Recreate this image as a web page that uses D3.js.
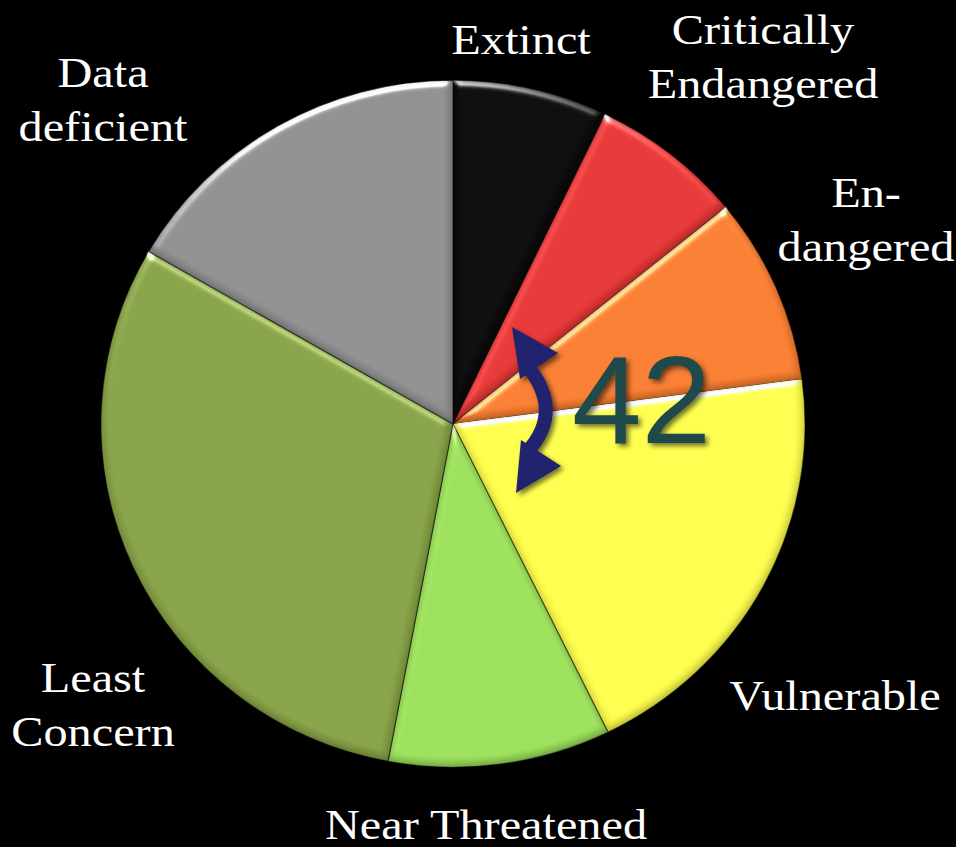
<!DOCTYPE html>
<html>
<head>
<meta charset="utf-8">
<script src="https://cdn.jsdelivr.net/npm/d3@7"></script>
<style>
  html, body { margin: 0; padding: 0; background: #000; }
  svg { display: block; }
</style>
</head>
<body>
<svg id="chart" width="956" height="847"></svg>
<script>
// ---- data ----
const categories = ["Extinct", "Critically Endangered", "Endangered", "Vulnerable", "Near Threatened", "Least Concern", "Data deficient"];
const values = [7.1, 7.0, 8.8, 19.8, 10.2, 30.4, 16.6];
const labelLines = [["Extinct"], ["Critically", "Endangered"], ["En-", "dangered"], ["Vulnerable"], ["Near Threatened"], ["Least", "Concern"], ["Data", "deficient"]];
const annotationValue = "42";

// ---- style / layout ----
const colors = ["#0a0a0a", "#e23636", "#f47b30", "#f9f94c", "#99dc5a", "#849f45", "#8d8d8d"];
const labelPos = [[521, 54], [763, 44], [866, 207], [835, 710], [486, 839], [93, 692], [103, 87]];
const lineH = 54;
const textStretch = 1.15;
const W = 956, H = 847;
const cx = 453, cy = 424, R = 352, yScale = 0.975;

const svg = d3.select("#chart");
svg.append("rect").attr("width", W).attr("height", H).attr("fill", "#000");

const defs = svg.append("defs");
const f = defs.append("filter").attr("id", "bevel")
  .attr("color-interpolation-filters", "sRGB")
  .attr("x", "-5%").attr("y", "-5%").attr("width", "110%").attr("height", "110%");
f.append("feGaussianBlur").attr("in", "SourceAlpha").attr("stdDeviation", 4).attr("result", "blur");
const spec = f.append("feSpecularLighting").attr("in", "blur").attr("surfaceScale", 4)
  .attr("specularConstant", 1.1).attr("specularExponent", 22)
  .attr("lighting-color", "#ffffff").attr("result", "spec");
spec.append("feDistantLight").attr("azimuth", 260).attr("elevation", 25);
f.append("feComposite").attr("in", "spec").attr("in2", "SourceAlpha").attr("operator", "in").attr("result", "specIn");
// dark lower edge via offset blur
f.append("feOffset").attr("in", "blur").attr("dx", -1).attr("dy", -3).attr("result", "off");
f.append("feComposite").attr("in", "SourceAlpha").attr("in2", "off").attr("operator", "out").attr("result", "edge");
f.append("feFlood").attr("flood-color", "#000").attr("flood-opacity", 0.3).attr("result", "dark");
f.append("feComposite").attr("in", "dark").attr("in2", "edge").attr("operator", "in").attr("result", "darkEdge");
f.append("feComposite").attr("in", "SourceGraphic").attr("in2", "specIn").attr("operator", "arithmetic")
  .attr("k1", 0).attr("k2", 1).attr("k3", 0.8).attr("k4", 0).attr("result", "lit");
const fm = f.append("feMerge");
fm.append("feMergeNode").attr("in", "lit");
fm.append("feMergeNode").attr("in", "darkEdge");

const shadow = defs.append("filter").attr("id", "shadow")
  .attr("color-interpolation-filters", "sRGB")
  .attr("x", "-20%").attr("y", "-20%").attr("width", "140%").attr("height", "140%");
shadow.append("feDropShadow").attr("dx", 3).attr("dy", 3).attr("stdDeviation", 2.5)
  .attr("flood-color", "#000").attr("flood-opacity", 0.55);

const pie = d3.pie().sort(null).value(d => d);
const arcs = pie(values);
const arc = d3.arc().innerRadius(0).outerRadius(R);

const g = svg.append("g").attr("transform", `translate(${cx},${cy}) scale(1,${yScale})`);
g.selectAll("path.slice").data(arcs).enter().append("path")
  .attr("class", "slice")
  .attr("d", arc)
  .attr("fill", (d, i) => colors[i])
  .attr("stroke", "rgba(0,0,0,0.45)")
  .attr("stroke-width", 1.2)
  .attr("filter", "url(#bevel)");

// labels
const lab = svg.append("g")
  .attr("font-family", "'Liberation Serif', 'Times New Roman', serif")
  .attr("font-size", 42).attr("fill", "#fff").attr("text-anchor", "middle");
categories.forEach((c, i) => {
  const t = lab.append("g")
    .attr("transform", `translate(${labelPos[i][0]},${labelPos[i][1]}) scale(${textStretch},1)`)
    .append("text").attr("x", 0).attr("y", 0);
  labelLines[i].forEach((ln, j) => {
    t.append("tspan").attr("x", 0).attr("dy", j === 0 ? 0 : lineH).text(ln);
  });
});

// annotation: double-headed curved arrow + number
const ann = svg.append("g").attr("filter", "url(#shadow)");
ann.append("path")
  .attr("d", "M 524 362 Q 566 410 527 452")
  .attr("fill", "none").attr("stroke", "#22236f").attr("stroke-width", 14);
ann.append("path").attr("d", "M 512 327 L 558 353 L 520 379 Z").attr("fill", "#22236f");
ann.append("path").attr("d", "M 516 493 L 521 440 L 561 466 Z").attr("fill", "#22236f");
svg.append("text")
  .attr("x", 572).attr("y", 443)
  .attr("font-family", "'Liberation Sans', Arial, sans-serif")
  .attr("font-size", 125).attr("fill", "#1e4a4b")
  .attr("filter", "url(#shadow)")
  .text(annotationValue);
</script>
</body>
</html>
